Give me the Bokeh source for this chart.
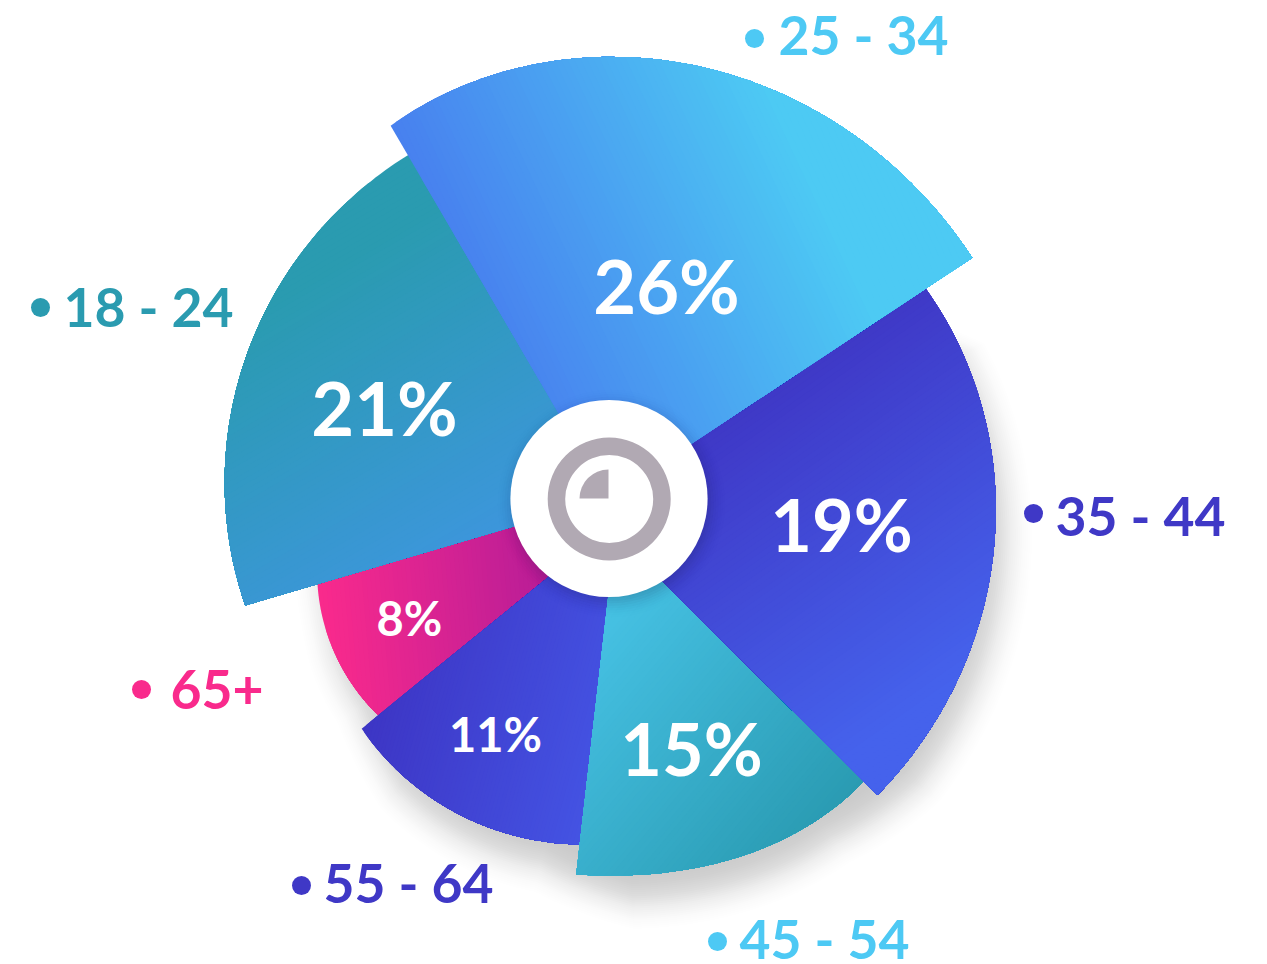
import numpy as np
from bokeh.plotting import figure
from bokeh.models import Range1d
from bokeh.core.properties import value
from bokeh.embed import file_html
from bokeh.resources import INLINE

# ---- data ----
groups = ["25 - 34", "35 - 44", "45 - 54", "55 - 64", "65+", "18 - 24"]
shares = [26, 19, 15, 11, 8, 21]
share_labels = ["26%", "19%", "15%", "11%", "8%", "21%"]
# rim profile of each slice: bearing (deg clockwise from north) and radius
rim_deg = [[-30.3, -14.3, 2.8, 16.5, 31.1, 44.8, 56.4],
           [56.6, 66, 77.2, 93.3, 105.3, 118, 128.6, 137.8],
           [138.2, 153.3, 169, 184.9],
           [184.8, 205.6, 227],
           [226.9, 241.1, 253.7],
           [253.6, 262.2, 271.2, 284.2, 294.4, 308.5, 329.6]]
rim_rad = [[432, 438.5, 442.8, 441.1, 437.5, 438.4, 435.7],
           [379.9, 383.4, 384.5, 386.6, 391, 394.5, 395.6, 400.7],
           [381, 382.8, 378.9, 377.4],
           [347.2, 349.3, 337.5],
           [316.3, 314.2, 303.2],
           [378.4, 381.6, 384.1, 386.8, 389.8, 393.6, 397.6]]
# ---- style ----
sweep = [(-30.3, 56.5), (52, 137.8), (136.5, 184.9), (178, 227), (226, 255.5), (253.6, 332)]
apex = [(0, 0), (-17.4, 11.6), (11, 0), (0, 30), (58.5, -17.3), (0, 0)]
grad_dir = [-25, 55, 40, 15, -5, 60]
grad_span = [(0, 0.76), (0.05, 0.88), (0, 1), (0, 1), (0, 0.68), (0.15, 0.95)]
grad_from = ["#4880EF", "#3F38C6", "#4CC9EE", "#3D35C4", "#FA2A8C", "#2A9BB0"]
grad_to = ["#4DCAF3", "#4562EC", "#2A9BB2", "#4558E8", "#B41C98", "#3D96DC"]
draw_order = [4, 3, 2, 1, 5, 0]
share_xy = [(666, 285), (841, 523), (691, 747), (495, 733), (409, 617), (384, 407)]
share_size = [74, 72, 72, 47, 47, 74]
legend_colors = ["#4DC9F4", "#3F38C6", "#4DC9F4", "#3F38C6", "#F92A8C", "#2A9BB0"]
legend_dot = [(754, 38), (1033, 513), (717, 941), (301, 885), (141, 689), (40, 307)]
legend_txt = [(778, 33), (1055, 514), (739, 937), (323, 881), (170, 689), (63, 305)]
LEGEND_SIZE = 53.5
FONT = "Lato"
WEIGHT = "bold"
CX, CY = 608, 498
H = 964


def Y(py):
    return H - np.asarray(py, dtype=float)


def rim_fn(i):
    deg = min(3, len(rim_deg[i]) - 1)
    return np.poly1d(np.polyfit(rim_deg[i], rim_rad[i], deg))


def slice_poly(i):
    a0, a1 = sweep[i]
    f = rim_fn(i)
    a = np.linspace(a0, a1, 90)
    r = f(a)
    x = CX + r * np.sin(np.radians(a))
    y = CY - r * np.cos(np.radians(a))
    ax, ay = CX + apex[i][0], CY + apex[i][1]
    return np.column_stack([np.r_[ax, x], np.r_[ay, y]])


def clip_above(poly, n, t):
    """keep the part of poly whose projection on n is >= t"""
    out = []
    d = poly @ n - t
    for k in range(len(poly)):
        p, q = poly[k], poly[(k + 1) % len(poly)]
        dp, dq = d[k], d[(k + 1) % len(poly)]
        if dp >= 0:
            out.append(p)
        if dp * dq < 0:
            out.append(p + (q - p) * dp / (dp - dq))
    return np.array(out)


def hex2rgb(h):
    return np.array([int(h[j:j + 2], 16) for j in (1, 3, 5)], dtype=float)


def rgb2hex(c):
    return "#%02x%02x%02x" % tuple(int(round(v)) for v in c)


p = figure(width=1267, height=964, x_range=Range1d(0, 1267), y_range=Range1d(0, H),
           output_backend="svg", toolbar_location=None, min_border=0, outline_line_color=None,
           background_fill_color="white", border_fill_color="white")
p.axis.visible = False
p.grid.visible = False

# ---- pie drop shadow (cast by the four lower slices only) ----
theta = np.arange(-30.3, 329.7, 1.0)
sil = []
for th in theta:
    for i in reversed(draw_order):
        a0, a1 = sweep[i]
        t = th if a0 <= th <= a1 else th + 360
        if a0 <= t <= a1:
            sil.append(300.0 if i in (0, 5) else float(rim_fn(i)(t)))
            break
sil = np.array(sil)
kernel = np.ones(15) / 15
sil = np.convolve(np.r_[sil[-7:], sil, sil[:7]], kernel, mode="valid")
ds = np.linspace(44, -44, 44)
w = np.exp(-0.5 * (ds / 16.0) ** 2)
w = w / w.sum() * 0.21
xs, ys = [], []
for d in ds:
    xs.append(CX + 9 + (sil + d) * np.sin(np.radians(theta)))
    ys.append(Y(CY + 26 - (sil + d) * np.cos(np.radians(theta))))
p.patches(xs, ys, fill_color="#000000", fill_alpha=list(w), line_color=None)

# ---- slices with stepped linear gradients ----
N = 80
for i in draw_order:
    poly = slice_poly(i)
    n = np.array([np.cos(np.radians(grad_dir[i])), np.sin(np.radians(grad_dir[i]))])
    proj = poly @ n
    lo, hi = proj.min(), proj.max()
    c0, c1 = hex2rgb(grad_from[i]), hex2rgb(grad_to[i])
    s0, s1 = grad_span[i]
    xs, ys, cols = [], [], []
    for k in range(N):
        t = lo + (hi - lo) * k / N
        part = poly if k == 0 else clip_above(poly, n, t)
        if len(part) < 3:
            continue
        xs.append(part[:, 0])
        ys.append(Y(part[:, 1]))
        f = np.clip(((k + 0.5) / N - s0) / (s1 - s0), 0, 1)
        cols.append(rgb2hex(c0 + (c1 - c0) * f))
    p.patches(xs, ys, fill_color=cols, line_color=None)

# ---- centre disc shadow, disc, icon ----
ds = np.linspace(16, -16, 14)
w = np.exp(-0.5 * (ds / 7.0) ** 2)
w = w / w.sum() * 0.25
for d, a in zip(ds, w):
    p.circle(x=[CX + 3], y=[H - (CY + 5)], radius=98.5 + d, fill_color="#1a1a40", fill_alpha=float(a), line_color=None)
p.circle(x=[CX + 0.5], y=[H - 498], radius=98.6, fill_color="white", line_color=None)
p.annulus(x=[CX + 0.7], y=[H - 498.5], inner_radius=44, outer_radius=61.5, fill_color="#B1A9B3", line_color=None)
p.wedge(x=[CX], y=[H - 498], radius=29, start_angle=np.pi / 2, end_angle=np.pi, fill_color="#B1A9B3", line_color=None)

# ---- texts ----
for lab, (x, y), s in zip(share_labels, share_xy, share_size):
    p.text(x=[x], y=[H - y], text=[lab], text_font=value(FONT), text_font_size=f"{s}px", text_font_style=WEIGHT,
           text_color="white", text_align="center", text_baseline="middle")
for g, c, (dx, dy), (tx, ty) in zip(groups, legend_colors, legend_dot, legend_txt):
    p.circle(x=[dx], y=[H - dy], radius=9.5, fill_color=c, line_color=None)
    p.text(x=[tx], y=[H - ty], text=[g], text_font=value(FONT), text_font_size=f"{LEGEND_SIZE}px", text_font_style=WEIGHT,
           text_color=c, text_align="left", text_baseline="middle")

open("out.html", "w").write(file_html(p, INLINE))
